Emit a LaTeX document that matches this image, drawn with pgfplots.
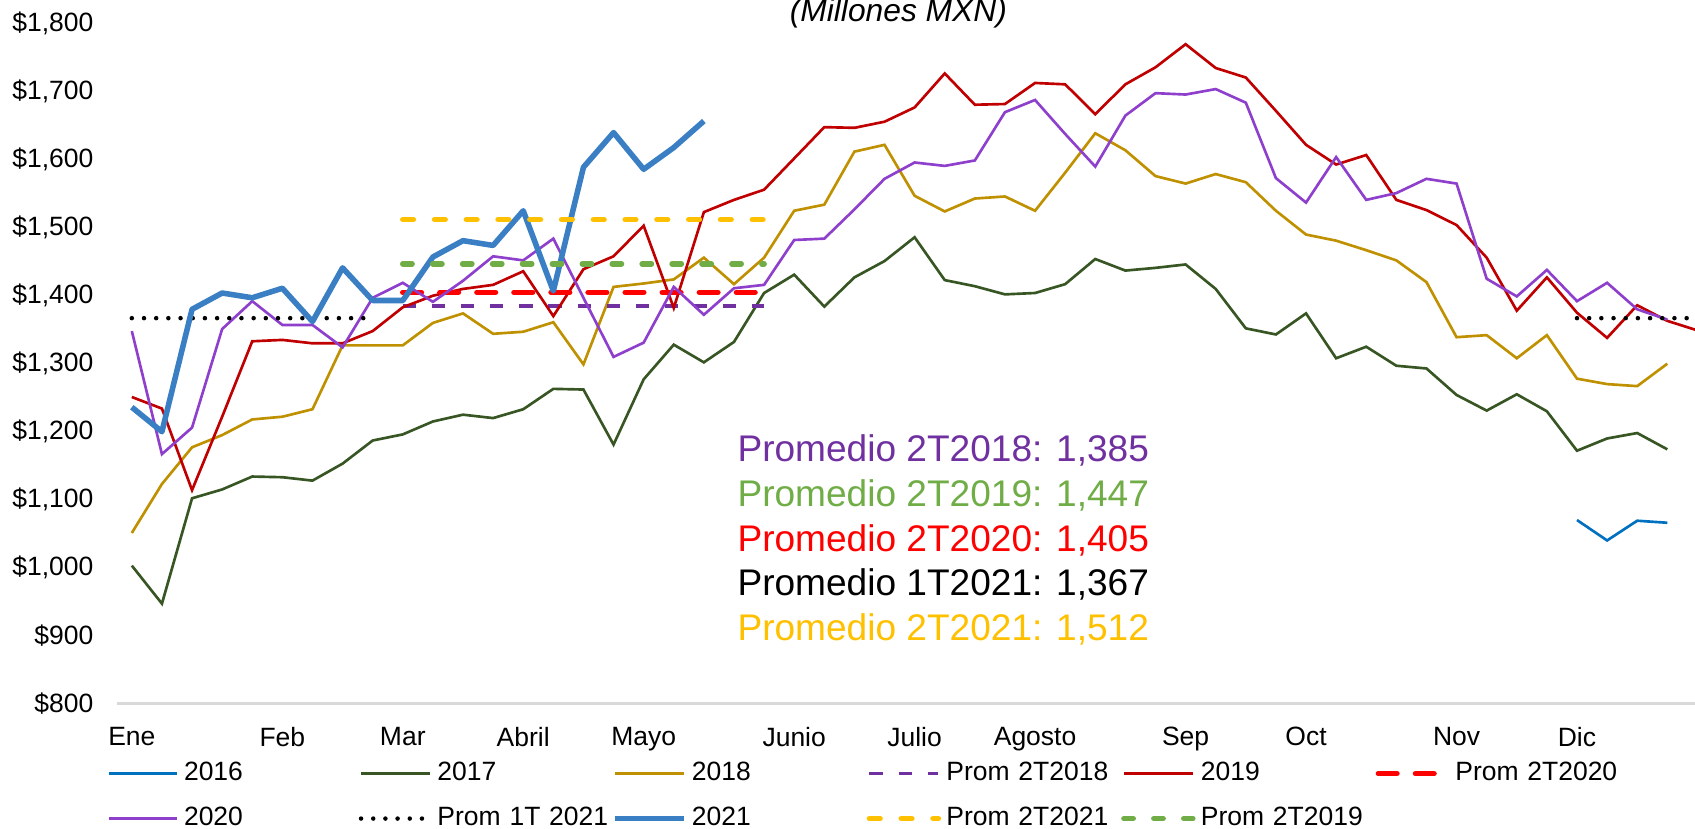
\documentclass[border=0pt]{standalone}
\usepackage{fontspec}
\setmainfont{Liberation Sans}
\usepackage{pgfplots}
\pgfplotsset{compat=1.18}
\usetikzlibrary{calc}

\definecolor{c2016}{HTML}{0070C0}
\definecolor{c2017}{HTML}{375623}
\definecolor{c2018}{HTML}{BF9000}
\definecolor{c2019}{HTML}{C00000}
\definecolor{c2020}{HTML}{8E40CC}
\definecolor{c2021}{HTML}{3A7FC4}
\definecolor{p2018}{HTML}{7030A0}
\definecolor{p2019}{HTML}{70AD47}
\definecolor{p2020}{HTML}{FF0000}
\definecolor{p2021}{HTML}{FFC000}
\definecolor{axgray}{HTML}{D9D9D9}

\begin{document}
\begin{tikzpicture}
\begin{axis}[
    scale only axis,
    width=596pt, height=256.7pt,
    xmin=0.5, xmax=52.92,
    ymin=800, ymax=1800,
    axis lines*=left,
    y axis line style={draw=none},
    x axis line style={draw=axgray, line width=1pt},
    major tick length=0pt,
    ytick={800,900,...,1800},
    yticklabel={\$\pgfmathprintnumber[assume math mode=true,1000 sep={,}]{\tick}},
    yticklabel style={xshift=-5.3pt},
    xtick={1,6,10,14,18,23,27,31,36,40,45,49},
    xticklabels={Ene,Feb,Mar,Abril,Mayo,Junio,Julio,Agosto,Sep,Oct,Nov,Dic},
    xticklabel style={yshift=-5.3pt},
    tick label style={font=\fontsize{10}{12}\selectfont},
    title={(Millones MXN)},
    title style={at={(axis cs:26.46,1800)}, anchor=base, yshift=-5.2pt,
        font=\fontsize{12}{14}\selectfont\itshape},
    legend columns=6,
    legend style={at={(0,0)}, anchor=north west, xshift=-3.8pt, yshift=-20pt,
        draw=none, fill=none, inner sep=0pt,
        font=\fontsize{10}{12}\selectfont,
        /tikz/every even column/.append style={nodes={text width=64pt}},
        /tikz/row sep=4.5pt},
    legend cell align=left,
    legend image code/.code={\draw[#1] (0pt,0pt) -- (26pt,0pt);},
]
% 2016
\addplot[c2016, line width=1pt] coordinates {
    (49,1070)(50,1040)(51,1069)(52,1066)
};
\addlegendentry{2016}

% 2017
\addplot[c2017, line width=1pt] coordinates {
    (1,1003)(2,947)(3,1102)(4,1115)(5,1134)(6,1133)(7,1128)(8,1153)(9,1187)(10,1196)
    (11,1215)(12,1225)(13,1220)(14,1233)(15,1263)(16,1262)(17,1181)(18,1277)(19,1328)(20,1302)
    (21,1332)(22,1404)(23,1431)(24,1384)(25,1427)(26,1451)(27,1486)(28,1423)(29,1414)(30,1402)
    (31,1404)(32,1417)(33,1454)(34,1437)(35,1441)(36,1446)(37,1410)(38,1352)(39,1343)(40,1374)
    (41,1308)(42,1325)(43,1297)(44,1293)(45,1254)(46,1231)(47,1255)(48,1230)(49,1172)(50,1190)
    (51,1198)(52,1174)
};
\addlegendentry{2017}

% 2018
\addplot[c2018, line width=1pt] coordinates {
    (1,1051)(2,1123)(3,1177)(4,1195)(5,1218)(6,1222)(7,1233)(8,1327)(9,1327)(10,1327)
    (11,1360)(12,1374)(13,1344)(14,1347)(15,1361)(16,1299)(17,1413)(18,1418)(19,1424)(20,1456)
    (21,1417)(22,1456)(23,1525)(24,1534)(25,1612)(26,1622)(27,1547)(28,1524)(29,1543)(30,1546)
    (31,1525)(32,1581)(33,1639)(34,1614)(35,1576)(36,1565)(37,1579)(38,1567)(39,1525)(40,1490)
    (41,1481)(42,1467)(43,1452)(44,1420)(45,1339)(46,1342)(47,1308)(48,1342)(49,1278)(50,1270)
    (51,1267)(52,1300)
};
\addlegendentry{2018}

% Prom 2T2018
\addplot[p2018, line width=1.3pt, dash pattern=on 5pt off 6pt] coordinates {
    (10,1385)(22,1385)
};
\addlegendentry{Prom~2T2018}

% 2019
\addplot[c2019, line width=1pt] coordinates {
    (1,1251)(2,1234)(3,1114)(4,1222)(5,1333)(6,1335)(7,1330)(8,1330)(9,1348)(10,1383)
    (11,1400)(12,1410)(13,1416)(14,1436)(15,1370)(16,1439)(17,1458)(18,1503)(19,1382)(20,1523)
    (21,1541)(22,1556)(23,1602)(24,1648)(25,1647)(26,1656)(27,1677)(28,1727)(29,1681)(30,1682)
    (31,1713)(32,1711)(33,1667)(34,1711)(35,1736)(36,1770)(37,1735)(38,1721)(39,1672)(40,1622)
    (41,1593)(42,1607)(43,1541)(44,1526)(45,1504)(46,1456)(47,1378)(48,1427)(49,1375)(50,1338)
    (51,1386)(52,1363)(53,1349)
};
\addlegendentry{2019}

% Prom 2T2020
\addplot[p2020, line width=2.1pt, line cap=round, dash pattern=on 7pt off 7pt] coordinates {
    (10,1405)(22,1405)
};
\addlegendentry{Prom~2T2020}

% 2020
\addplot[c2020, line width=1pt] coordinates {
    (1,1348)(2,1167)(3,1206)(4,1351)(5,1392)(6,1357)(7,1357)(8,1324)(9,1397)(10,1419)
    (11,1391)(12,1422)(13,1458)(14,1452)(15,1484)(16,1397)(17,1310)(18,1331)(19,1413)(20,1372)
    (21,1411)(22,1416)(23,1482)(24,1484)(25,1527)(26,1572)(27,1596)(28,1591)(29,1599)(30,1670)
    (31,1688)(32,1638)(33,1590)(34,1665)(35,1698)(36,1696)(37,1704)(38,1684)(39,1573)(40,1537)
    (41,1604)(42,1541)(43,1551)(44,1572)(45,1565)(46,1425)(47,1399)(48,1438)(49,1392)(50,1419)
    (51,1380)(52,1365)
};
\addlegendentry{2020}

% Prom 1T 2021
\addplot[black, line width=1.7pt, line cap=round, dash pattern=on 0pt off 4.6pt] coordinates {
    (1,1367)(9,1367)
};
\addlegendentry{\mbox{Prom 1T 2021}}
\addplot[black, line width=1.7pt, line cap=round, dash pattern=on 0pt off 4.6pt, forget plot] coordinates {
    (49,1367)(53,1367)
};

% 2021
\addplot[c2021, line width=2.1pt, line join=round] coordinates {
    (1,1236)(2,1200)(3,1380)(4,1404)(5,1397)(6,1411)(7,1362)(8,1441)(9,1393)(10,1393)
    (11,1457)(12,1481)(13,1474)(14,1525)(15,1407)(16,1589)(17,1640)(18,1586)(19,1618)(20,1657)
};
\addlegendentry{2021}

% Prom 2T2021
\addplot[p2021, line width=2.1pt, line cap=round, dash pattern=on 4pt off 8pt] coordinates {
    (10,1512)(22,1512)
};
\addlegendentry{Prom~2T2021}

% Prom 2T2019
\addplot[p2019, line width=2.1pt, line cap=round, dash pattern=on 3.5pt off 7.8pt] coordinates {
    (10,1447)(22,1447)
};
\addlegendentry{Prom~2T2019}

\begin{scope}[every node/.style={anchor=base west, inner sep=0pt,
        font=\fontsize{14}{16}\selectfont}]
\node[text=p2018] at (axis cs:21.1,1156) {Promedio 2T2018: 1,385};
\node[text=p2019] at (axis cs:21.1,1090) {Promedio 2T2019: 1,447};
\node[text=p2020] at (axis cs:21.1,1024) {Promedio 2T2020: 1,405};
\node[text=black] at (axis cs:21.1,959) {Promedio 1T2021: 1,367};
\node[text=p2021] at (axis cs:21.1,893) {Promedio 2T2021: 1,512};
\end{scope}
\end{axis}
\pgfresetboundingbox
\path[use as bounding box] ($(current axis.south west)+(-44.1pt,-47.3pt)$)
    rectangle ($(current axis.north east)+(0pt,9pt)$);
\end{tikzpicture}
\end{document}
